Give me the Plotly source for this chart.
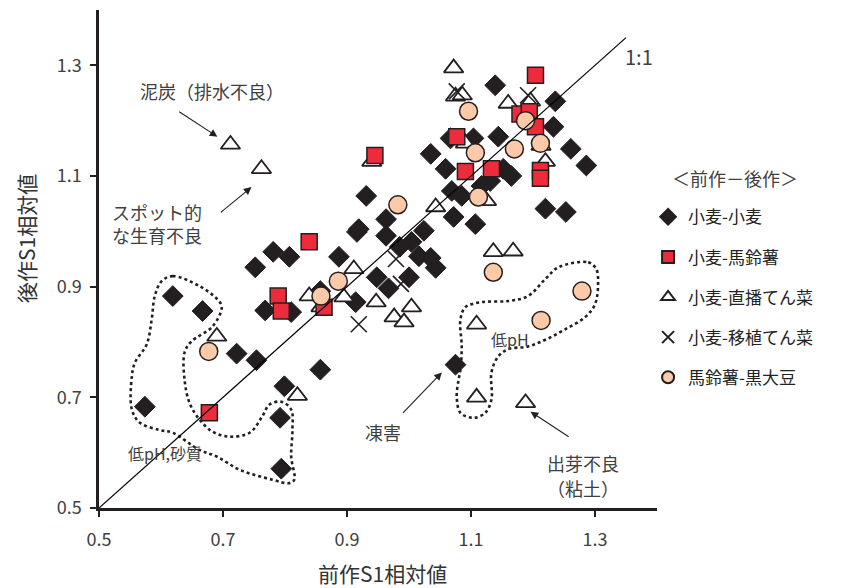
import plotly.graph_objects as go

# 小麦-小麦
ww_x = [0.574,0.619,0.667,0.722,0.754,0.799,0.792,0.794,0.857,1.075,0.752,0.781,0.807,0.768,0.810,0.857,
        0.887,0.914,0.916,0.948,0.931,0.963,0.919,0.963,1.024,1.004,0.985,1.016,1.035,1.043,1.000,0.967,
        1.035,1.059,1.067,1.104,1.139,1.236,1.233,1.144,1.261,1.286,1.152,1.165,1.131,1.117,1.069,1.085,
        1.072,1.107,1.220,1.253]
ww_y = [0.683,0.883,0.856,0.779,0.767,0.720,0.663,0.571,0.750,0.759,0.935,0.963,0.954,0.857,0.854,0.892,
        0.954,0.872,0.999,0.917,1.064,1.022,1.004,0.992,1.001,0.981,0.972,0.955,0.952,0.934,0.917,0.897,
        1.140,1.113,1.168,1.168,1.264,1.235,1.189,1.171,1.149,1.119,1.113,1.100,1.091,1.082,1.073,1.064,
        1.026,1.013,1.041,1.035]
# 小麦-馬鈴薯
wp_x = [0.678,0.789,0.794,0.839,0.863,0.945,1.077,1.091,1.133,1.204,1.179,1.194,1.204,1.212,1.212]
wp_y = [0.672,0.883,0.856,0.981,0.863,1.137,1.171,1.108,1.113,1.282,1.212,1.216,1.189,1.110,1.096]
# 小麦-直播てん菜
wd_x = [0.712,0.762,0.690,0.820,0.839,0.895,0.858,0.911,0.947,0.940,1.043,0.976,1.004,0.992,1.072,
        1.075,1.086,1.160,1.196,1.091,1.213,1.220,1.125,1.136,1.168,1.109,1.109,1.188]
wd_y = [1.157,1.113,0.810,0.703,0.883,0.881,0.863,0.932,0.872,1.126,1.044,0.845,0.863,0.836,1.295,
        1.244,1.246,1.231,1.235,1.159,1.155,1.126,1.055,0.963,0.964,0.832,0.700,0.690]
# 小麦-移植てん菜
wt_x = [0.919,0.979,0.987,1.077,1.192]
wt_y = [0.832,0.950,0.905,1.253,1.246]
# 馬鈴薯-黒大豆
pb_x = [0.677,0.858,0.886,0.982,1.096,1.107,1.112,1.170,1.188,1.212,1.136,1.213,1.279]
pb_y = [0.783,0.883,0.910,1.048,1.217,1.142,1.062,1.149,1.200,1.159,0.926,0.839,0.892]

# dotted outlines
c1_x = [0.601,0.619,0.662,0.691,0.698,0.683,0.649,0.638,0.638,0.646,0.662,0.683,0.710,0.743,0.763,0.775,
        0.794,0.810,0.812,0.810,0.815,0.807,0.780,0.727,0.690,0.662,0.619,0.598,0.566,0.553,0.553,0.558,
        0.577,0.585,0.590,0.601]
c1_y = [0.910,0.919,0.901,0.877,0.863,0.828,0.801,0.781,0.732,0.690,0.660,0.638,0.629,0.636,0.665,0.687,
        0.692,0.678,0.641,0.593,0.551,0.545,0.551,0.569,0.593,0.605,0.636,0.641,0.654,0.678,0.738,0.763,
        0.796,0.841,0.883,0.910]
c2_x = [1.241,1.289,1.302,1.305,1.300,1.284,1.252,1.220,1.192,1.160,1.144,1.133,1.133,1.123,1.104,1.083,
        1.077,1.080,1.083,1.085,1.083,1.091,1.117,1.160,1.192,1.220,1.241]
c2_y = [0.935,0.944,0.932,0.908,0.868,0.845,0.823,0.804,0.792,0.787,0.774,0.745,0.696,0.672,0.663,0.672,
        0.701,0.732,0.750,0.792,0.841,0.863,0.872,0.874,0.883,0.914,0.935]

one_x = [0.5, 1.35]
one_y = [0.5, 1.35]

tick_vals = [0.5, 0.7, 0.9, 1.1, 1.3]
tick_text = ["0.5", "0.7", "0.9", "1.1", "1.3"]

FONT = "Noto Sans CJK JP"
INK = "#231f20"
GRAY = "#404040"

fig = go.Figure()
for cx, cy in [(c1_x, c1_y), (c2_x, c2_y)]:
    fig.add_trace(go.Scatter(x=cx, y=cy, mode="lines", showlegend=False, hoverinfo="skip",
                             line=dict(color=INK, width=2.6, dash="dot", shape="spline")))

fig.add_trace(go.Scatter(x=ww_x, y=ww_y, mode="markers", name="小麦-小麦", legendgroup="a", legendrank=1,
                         marker=dict(symbol="diamond", size=16, color=INK, line=dict(color=INK, width=1))))
fig.add_trace(go.Scatter(x=wd_x, y=wd_y, mode="markers", name="小麦-直播てん菜", legendgroup="c", legendrank=3,
                         marker=dict(symbol="triangle-up", size=17, color="white", line=dict(color=INK, width=1.8))))
fig.add_trace(go.Scatter(x=wt_x, y=wt_y, mode="markers", name="小麦-移植てん菜", legendgroup="d", legendrank=4,
                         marker=dict(symbol="x-thin", size=16, color=INK, line=dict(color=INK, width=1.6))))
fig.add_trace(go.Scatter(x=wp_x, y=wp_y, mode="markers", name="小麦-馬鈴薯", legendgroup="b", legendrank=2,
                         marker=dict(symbol="square", size=16, color="#ee2b3b", line=dict(color=INK, width=1.5))))
fig.add_trace(go.Scatter(x=pb_x, y=pb_y, mode="markers", name="馬鈴薯-黒大豆", legendgroup="e", legendrank=5,
                         marker=dict(symbol="circle", size=18, color="#fdcaa9", line=dict(color=INK, width=1.5))))
fig.add_trace(go.Scatter(x=one_x, y=one_y, mode="lines", showlegend=False, hoverinfo="skip",
                         line=dict(color="black", width=1.2)))

fig.update_layout(
    width=843, height=588,
    margin=dict(l=99, r=186, t=10, b=80),
    paper_bgcolor="white", plot_bgcolor="white",
    font=dict(family=FONT, color=GRAY, size=16),
    legend=dict(x=0.984, y=0.62, xanchor="left", yanchor="top", traceorder="grouped",
                tracegroupgap=15, font=dict(size=17, color="#222"), bgcolor="rgba(0,0,0,0)",
                itemsizing="constant"),
    xaxis=dict(range=[0.5, 1.4], tickvals=tick_vals, ticktext=tick_text, showgrid=False, zeroline=False,
               showline=True, linecolor=INK, linewidth=2.5, ticks="outside", ticklen=6, tickwidth=1.5,
               tickcolor=INK, tickfont=dict(size=18, color=GRAY, family=FONT), automargin=False,
               ticklabelstandoff=8),
    yaxis=dict(range=[0.5, 1.4], tickvals=tick_vals, ticktext=tick_text, showgrid=False, zeroline=False,
               showline=True, linecolor=INK, linewidth=2.5, ticks="outside", ticklen=6, tickwidth=1.5,
               tickcolor=INK, tickfont=dict(size=18, color=GRAY, family=FONT), automargin=False,
               ticklabelstandoff=5),
)

ann = []
def txt(x, y, t, size=18, xanchor="center", align="center"):
    ann.append(dict(x=x, y=y, xref="x", yref="y", text=t, showarrow=False, xanchor=xanchor,
                    align=align, font=dict(size=size, color=GRAY, family=FONT)))
def arrow(x0, y0, x1, y1):
    ann.append(dict(x=x1, y=y1, ax=x0, ay=y0, xref="x", yref="y", axref="x", ayref="y", text="",
                    showarrow=True, arrowhead=2, arrowsize=1.4, arrowwidth=1.1, arrowcolor=INK))

txt(0.683, 1.253, "泥炭（排水不良）")
arrow(0.627, 1.218, 0.691, 1.171)
txt(0.518, 1.015, "スポット的<br>な生育不良", xanchor="left", align="left")
arrow(0.694, 1.032, 0.746, 1.080)
txt(0.958, 0.638, "凍害")
arrow(0.988, 0.669, 1.053, 0.745)
txt(1.281, 0.581, "出芽不良")
txt(1.281, 0.536, "（粘土）")
arrow(1.260, 0.627, 1.196, 0.674)
txt(1.163, 0.805, "低pH", size=16)
txt(0.606, 0.600, "低pH,砂質", size=16)
txt(1.371, 1.316, "1:1", size=20)

ann.append(dict(x=1.14, y=0.693, xref="paper", yref="paper", text="＜前作－後作＞", showarrow=False,
                xanchor="center", font=dict(size=18, color=GRAY, family=FONT)))
ann.append(dict(x=-0.131, y=0.542, xref="paper", yref="paper", text="後作S1相対値", showarrow=False,
                xanchor="center", yanchor="middle",
                textangle=-90, font=dict(size=21, color="#333", family=FONT)))
ann.append(dict(x=0.508, y=-0.131, xref="paper", yref="paper", text="前作S1相対値", showarrow=False,
                xanchor="center", yanchor="middle", font=dict(size=21, color="#333", family=FONT)))
fig.update_layout(annotations=ann)

fig.write_html("out.html")
